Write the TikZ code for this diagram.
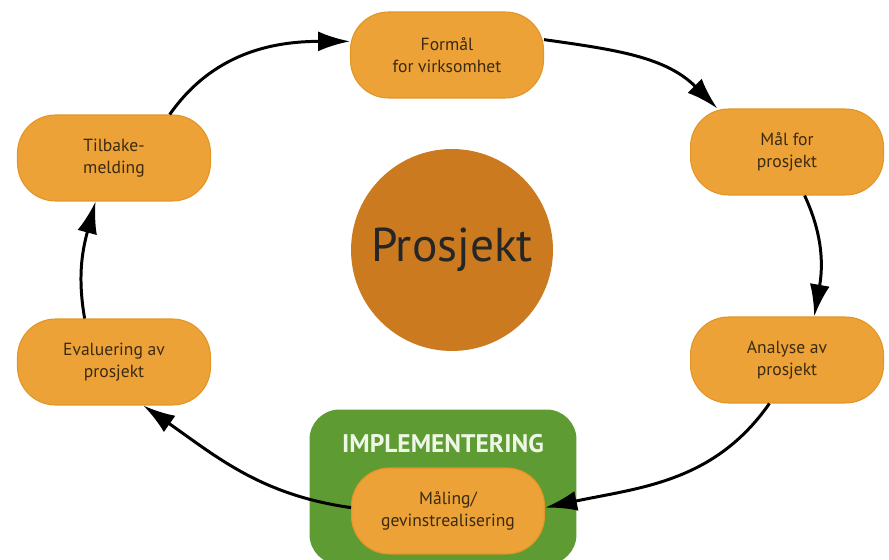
\documentclass[tikz,border=0pt]{standalone}
\usepackage{fontspec}
\setmainfont{PT Sans}
\usetikzlibrary{arrows.meta, positioning}
\definecolor{boxorange}{HTML}{ECA237}
\definecolor{boxedge}{HTML}{E39526}
\definecolor{boxtext}{HTML}{3B2A12}
\definecolor{coreorange}{HTML}{CB7A1F}
\definecolor{implgreen}{HTML}{5E9C33}
\definecolor{impltext}{HTML}{EEF7E6}

\begin{document}
\begin{tikzpicture}[x=0.02cm, y=-0.02cm,
    phase/.style={rectangle, rounded corners=0.76cm, fill=boxorange, draw=boxedge,
      line width=0.6pt, minimum width=3.86cm, minimum height=1.72cm, align=center,
      text=boxtext, font=\fontsize{10}{12.8}\selectfont},
    flow/.style={line width=1.7pt, -{Latex[length=6.4mm,width=4mm]}}]
  \useasboundingbox (0,0) rectangle (889,560);

  % implementation frame
  \node[rectangle, rounded corners=0.6cm, fill=implgreen, minimum width=5.34cm,
        minimum height=3.1cm] (impl) at (443,487) {};
  \node[text=impltext, font=\fontsize{14.5}{16}\selectfont\bfseries] (impltitle) at (443,444) {IMPLEMENTERING};

  % the phases
  \node[phase] (form) at (447,55)  {Formål\\for virksomhet};
  \node[phase] (maal) at (787,152) {Mål for\\prosjekt};
  \node[phase] (ana)  at (787,360) {Analyse av\\prosjekt};
  \node[phase] (meas) at (448,511) {Måling/\\gevinstrealisering};
  \node[phase] (eval) at (114,362) {Evaluering av\\prosjekt};
  \node[phase] (tilb) at (114,158) {Tilbake-\\melding};

  % centre
  \node[circle, fill=coreorange, minimum size=4.04cm, text=black!85,
        font=\fontsize{27}{30}\selectfont] (core) at (452,250) {Prosjekt};

  % cycle
  \draw[flow] (form.9)    to[out=-8,   in=135]  (maal.148);
  \draw[flow] (maal.-68)  to[out=-65,  in=80]   (ana.58);
  \draw[flow] (ana.-112)  to[out=-125, in=12]   (meas.2);
  \draw[flow] (meas.178)  to[out=172,  in=-35]  (eval.-56);
  \draw[flow] (eval.124)  to[out=100,  in=-105] (tilb.-113);
  \draw[flow] (tilb.38)   to[out=55,   in=180]  (form.172);
\end{tikzpicture}
\end{document}
